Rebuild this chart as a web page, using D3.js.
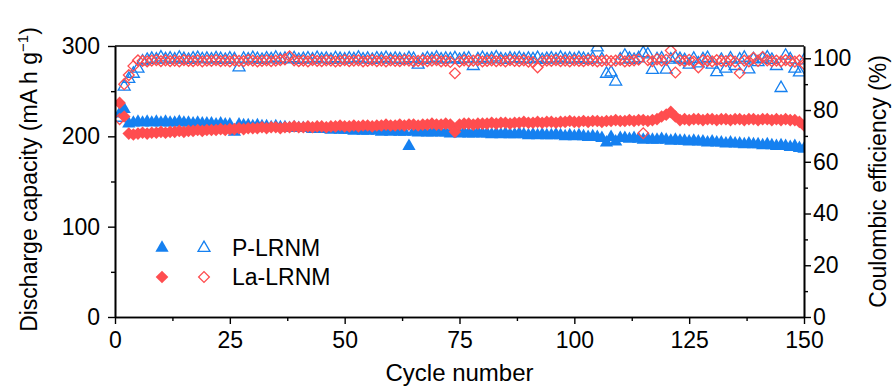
<!DOCTYPE html>
<html>
<head>
<meta charset="utf-8">
<script src="https://cdn.jsdelivr.net/npm/d3@7"></script>
<style>
  html, body { margin: 0; padding: 0; background: #fff; }
  svg { display: block; font-family: "Liberation Sans", Arial, sans-serif; }
</style>
</head>
<body>
<svg id="chart" width="896" height="387"></svg>
<script>
// cycle-by-cycle values (cycles 1..150)
const pDischarge = [
  225, 230, 214, 215, 216, 215, 216, 215, 216, 215,
  216, 215, 215, 216, 215, 215, 214, 215, 214, 214,
  214, 213, 214, 213, 213, 205, 213, 212, 212, 211,
  212, 211, 211, 210, 211, 210, 210, 209, 210, 209,
  209, 209, 208, 209, 208, 208, 207, 208, 207, 207,
  207, 206, 207, 206, 206, 207, 206, 205, 206, 205,
  206, 205, 205, 189, 205, 204, 205, 204, 204, 205,
  204, 204, 203, 204, 203, 204, 203, 203, 204, 203,
  203, 202, 203, 202, 203, 202, 202, 203, 202, 201,
  202, 201, 202, 201, 201, 202, 201, 200, 201, 200,
  201, 200, 199, 200, 199, 198, 193, 199, 194, 198,
  198, 197, 198, 197, 196, 197, 196, 196, 197, 196,
  195, 196, 195, 195, 194, 195, 194, 194, 193, 194,
  193, 193, 192, 193, 192, 192, 191, 192, 191, 191,
  190, 191, 190, 189, 190, 189, 188, 189, 187, 186
];
const laDischarge = [
  237, 222, 203, 202, 203, 204, 203, 204, 204, 205,
  204, 205, 205, 206, 205, 206, 206, 207, 206, 207,
  207, 207, 208, 207, 208, 208, 209, 208, 209, 209,
  209, 210, 209, 210, 210, 209, 210, 210, 211, 210,
  210, 211, 210, 211, 211, 210, 211, 211, 212, 211,
  211, 212, 211, 212, 212, 211, 212, 212, 213, 212,
  212, 213, 212, 213, 213, 212, 213, 213, 214, 213,
  213, 214, 213, 205, 213, 214, 214, 213, 214, 214,
  214, 215, 214, 215, 215, 214, 215, 215, 216, 215,
  215, 216, 215, 216, 216, 215, 216, 216, 217, 216,
  216, 217, 216, 217, 217, 216, 217, 217, 218, 217,
  217, 218, 217, 218, 218, 217, 218, 219, 222, 224,
  227, 222, 218, 219, 218, 219, 219, 218, 219, 219,
  218, 219, 219, 218, 219, 219, 218, 219, 219, 218,
  219, 219, 218, 219, 218, 219, 218, 218, 216, 212
];
const pEfficiency = [
  77, 89, 92, 94, 96, 98.8, 99.4, 99.8, 99.5, 100.3,
  99.6, 99.9, 99.5, 100.2, 99.7, 99.4, 99.9, 100.1, 99.6, 99.8,
  99.5, 100.0, 99.7, 99.4, 99.9, 99.6, 96.5, 99.8, 99.5, 100.1,
  99.7, 99.4, 99.9, 99.6, 100.2, 99.5, 99.8, 99.6, 100.0, 99.4,
  99.7, 99.9, 99.5, 100.1, 99.6, 99.8, 99.4, 100.0, 99.7, 99.5,
  99.9, 99.6, 100.2, 99.5, 99.8, 99.4, 99.9, 99.7, 100.1, 99.5,
  99.8, 99.6, 99.3, 100.0, 99.7, 97.5, 99.4, 99.9, 99.6, 100.2,
  99.5, 99.8, 99.6, 100.0, 99.4, 99.7, 99.9, 97.0, 99.6, 100.1,
  99.5, 99.8, 100.3, 99.6, 99.4, 99.9, 99.7, 100.0, 99.5, 99.8,
  99.6, 100.1, 99.4, 99.7, 99.9, 99.5, 100.2, 99.6, 99.8, 99.5,
  100.0, 99.7, 99.4, 99.9, 104.2, 99.6, 94.0, 94.5, 91.0, 99.5,
  101.0, 99.8, 99.4, 100.0, 102.0, 101.5, 95.5, 99.6, 99.9, 95.6,
  99.5, 100.2, 99.7, 99.3, 97.5, 99.8, 98.0, 99.6, 100.1, 97.5,
  94.6, 99.4, 96.0, 99.9, 97.0, 99.5, 100.2, 95.7, 99.6, 98.5,
  99.8, 100.3, 99.4, 97.0, 88.5, 101.0, 99.6, 96.0, 94.5, 99.2
];
const laEfficiency = [
  76.5, 90, 93.5, 97, 99.2, 99.0, 98.8, 99.1, 99.3, 98.9,
  99.2, 98.9, 99.1, 98.8, 99.3, 99.0, 98.9, 99.2, 98.8, 99.1,
  99.0, 99.3, 98.9, 99.1, 98.8, 99.2, 99.0, 98.9, 99.3, 99.1,
  98.8, 99.0, 99.2, 98.9, 99.1, 99.3, 99.6, 100.8, 99.2, 98.9,
  99.1, 98.8, 99.3, 99.0, 98.9, 99.2, 99.1, 98.8, 99.0, 99.3,
  98.9, 99.1, 99.2, 98.8, 99.0, 99.3, 98.9, 99.1, 98.8, 99.2,
  99.0, 98.9, 99.3, 99.1, 98.8, 99.0, 99.2, 98.9, 99.1, 99.3,
  98.8, 99.0, 98.6, 94.2, 98.7, 99.2, 98.9, 99.1, 99.3, 98.8,
  99.0, 99.2, 98.9, 99.1, 98.8, 99.3, 99.0, 98.9, 99.2, 98.7,
  98.5, 96.5, 98.8, 99.1, 99.0, 99.3, 98.9, 99.1, 98.8, 99.2,
  99.0, 98.9, 99.3, 99.1, 98.8, 99.0, 99.2, 98.9, 99.1, 99.4,
  98.8, 99.0, 99.2, 99.5, 71.0, 99.3, 98.9, 99.6, 99.1, 99.4,
  103.0, 94.5, 99.2, 98.9, 99.4, 98.7, 96.5, 99.2, 99.0, 98.8,
  99.3, 99.0, 98.9, 99.2, 98.7, 94.3, 99.1, 98.8, 100.2, 99.0,
  100.5, 99.2, 98.9, 99.1, 98.8, 99.3, 99.0, 98.7, 99.2, 97.8
];
const xTicks = [0, 25, 50, 75, 100, 125, 150];
const leftTicks = [0, 100, 200, 300];
const rightTicks = [0, 20, 40, 60, 80, 100];
const legendNames = ['P-LRNM', 'La-LRNM'];

const BLUE = '#1580f0';
const RED = '#ff4d4f';
const FONT = '"Liberation Sans", Arial, sans-serif';

const svg = d3.select('#chart');
const plot = { left: 115, right: 804, top: 46, bottom: 317 };

const x = d3.scaleLinear().domain([0, 150]).range([plot.left, plot.right]);
const yL = d3.scaleLinear().domain([0, 300]).range([plot.bottom, plot.top]);
const yR = d3.scaleLinear().domain([0, 104.75]).range([plot.bottom, plot.top]);

const tri = d3.symbol().type(d3.symbolTriangle).size(76)();
const triOpen = d3.symbol().type(d3.symbolTriangle).size(62)();
const dia = d3.symbol().type(d3.symbolSquare).size(80)();
const diaOpen = d3.symbol().type(d3.symbolSquare).size(58)();

svg.append('defs').append('clipPath').attr('id', 'plot-clip')
  .append('rect')
  .attr('x', plot.left).attr('y', plot.top)
  .attr('width', plot.right - plot.left).attr('height', plot.bottom - plot.top);

const marks = svg.append('g').attr('clip-path', 'url(#plot-clip)');

function drawSeries(values, yScale, path, rot, filled, color) {
  marks.append('g').selectAll('path')
    .data(values)
    .enter()
    .append('path')
    .attr('d', path)
    .attr('transform', (d, i) => `translate(${x(i + 1)},${yScale(d)}) rotate(${rot})`)
    .attr('fill', filled ? color : 'none')
    .attr('stroke', filled ? 'none' : color)
    .attr('stroke-width', filled ? 0 : 1.3);
}

drawSeries(pDischarge, yL, tri, 0, true, BLUE);
drawSeries(pEfficiency, yR, triOpen, 0, false, BLUE);
drawSeries(laDischarge, yL, dia, 45, true, RED);
drawSeries(laEfficiency, yR, diaOpen, 45, false, RED);

// axes
function styleAxis(g) {
  g.selectAll('path.domain').attr('stroke', '#000').attr('stroke-width', 1.6);
  g.selectAll('line').attr('stroke', '#000').attr('stroke-width', 1.4);
  g.selectAll('text').attr('font-size', '23px').attr('fill', '#000')
    .attr('font-family', FONT);
}

const minorX = d3.range(12.5, 150, 25);
svg.append('g').attr('transform', `translate(0,${plot.bottom})`)
  .call(d3.axisBottom(x).tickValues(minorX).tickSize(4).tickFormat('').tickSizeOuter(0))
  .call(styleAxis);
svg.append('g').attr('transform', `translate(0,${plot.bottom})`)
  .call(d3.axisBottom(x).tickValues(xTicks).tickSize(7).tickPadding(8).tickSizeOuter(0))
  .call(styleAxis);

svg.append('g').attr('transform', `translate(${plot.left},0)`)
  .call(d3.axisLeft(yL).tickValues([50, 150, 250]).tickSize(4).tickFormat('').tickSizeOuter(0))
  .call(styleAxis);
svg.append('g').attr('transform', `translate(${plot.left},0)`)
  .call(d3.axisLeft(yL).tickValues(leftTicks).tickSize(7).tickPadding(8).tickSizeOuter(0))
  .call(styleAxis);

svg.append('g').attr('transform', `translate(${plot.right},0)`)
  .call(d3.axisRight(yR).tickValues([10, 30, 50, 70, 90]).tickSize(4).tickFormat('').tickSizeOuter(0))
  .call(styleAxis);
svg.append('g').attr('transform', `translate(${plot.right},0)`)
  .call(d3.axisRight(yR).tickValues(rightTicks).tickSize(7).tickPadding(2).tickSizeOuter(0))
  .call(styleAxis);

// top frame line
svg.append('line')
  .attr('x1', plot.left).attr('x2', plot.right)
  .attr('y1', plot.top).attr('y2', plot.top)
  .attr('stroke', '#000').attr('stroke-width', 1.6);

// titles
svg.append('text')
  .attr('x', (plot.left + plot.right) / 2).attr('y', 381)
  .attr('text-anchor', 'middle').attr('font-size', '24px')
  .text('Cycle number');

const lt = svg.append('text')
  .attr('transform', `translate(37,${(plot.top + plot.bottom) / 2 - 2}) rotate(-90)`)
  .attr('text-anchor', 'middle').attr('font-size', '23px');
lt.append('tspan').text('Discharge capacity (mA h g');
lt.append('tspan').attr('font-size', '15px').attr('dy', -9).text('\u22121');
lt.append('tspan').attr('dy', 9).text(')');

svg.append('text')
  .attr('transform', `translate(886,${(plot.top + plot.bottom) / 2}) rotate(-90)`)
  .attr('text-anchor', 'middle').attr('font-size', '23px')
  .text('Coulombic efficiency (%)');

// legend
const legend = svg.append('g');
const rows = [
  { y: 248, filled: tri, open: triOpen, rot: 0, color: BLUE },
  { y: 277, filled: dia, open: diaOpen, rot: 45, color: RED }
];
rows.forEach((r, i) => {
  legend.append('path').attr('d', r.filled)
    .attr('transform', `translate(162,${r.y}) rotate(${r.rot})`)
    .attr('fill', r.color);
  legend.append('path').attr('d', r.open)
    .attr('transform', `translate(204,${r.y}) rotate(${r.rot})`)
    .attr('fill', 'none').attr('stroke', r.color).attr('stroke-width', 1.3);
  legend.append('text').attr('x', 232).attr('y', r.y + 8)
    .attr('font-size', '23px').text(legendNames[i]);
});
</script>
</body>
</html>
